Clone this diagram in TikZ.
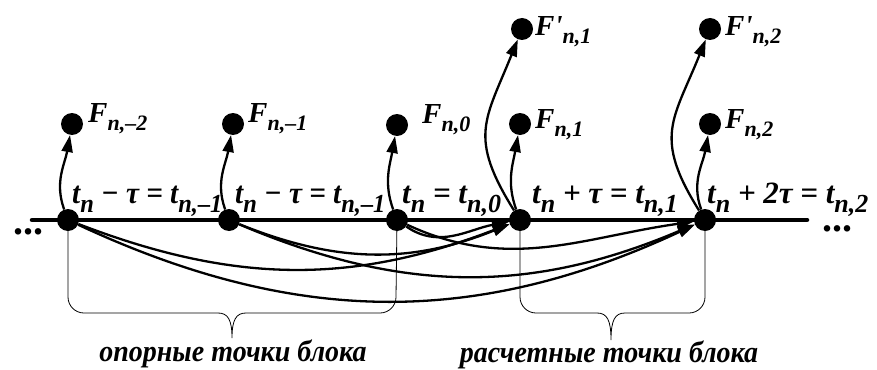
\documentclass[tikz,border=0pt]{standalone}
\usepackage{fontspec}
\setmainfont{Liberation Serif}
\usetikzlibrary{arrows.meta}
\newcommand\sbx[1]{\raisebox{-9pt}{\fontsize{26}{26}\selectfont #1}}
\newcommand\fsb[1]{\raisebox{-8pt}{\fontsize{22}{22}\selectfont #1}}
\begin{document}
\begin{tikzpicture}[x=1pt,y=1pt,
 pt/.style={circle,fill=black,minimum size=22pt,inner sep=0pt},
 conn/.style={line width=2.3pt,-{Triangle[length=17pt,width=11pt]}},
 tlab/.style={anchor=base west,inner sep=0pt,font=\fontsize{31}{31}\selectfont\bfseries\itshape},
 flab/.style={anchor=base west,inner sep=0pt,font=\fontsize{29}{29}\selectfont\bfseries\itshape},
 bracel/.style={line width=0.8pt},
 btxt/.style={inner sep=0pt,yscale=1.08,font=\fontsize{28}{28}\selectfont\bfseries\itshape},
 dotsl/.style={inner sep=0pt,font=\fontsize{40}{40}\selectfont\bfseries}]
\useasboundingbox (0,0) rectangle (877,-369);
% axis
\coordinate (axL) at (32,-220);
\coordinate (axR) at (807,-220);
\draw[line width=4.5pt,line cap=round] (axL) -- (axR);
\node[dotsl] (dl) at (28,-232) {...};
\node[dotsl] (dr) at (837,-229) {...};
% points on axis
\node[pt] (d1) at (68,-220) {};
\node[pt] (d2) at (229,-220) {};
\node[pt] (d3) at (397,-220) {};
\node[pt] (d4) at (520,-220) {};
\node[pt] (d5) at (705,-220) {};
% F points
\node[pt] (f1) at (72,-124) {};
\node[pt] (f2) at (233,-124) {};
\node[pt] (f3) at (397,-125) {};
\node[pt] (f4) at (520,-124) {};
\node[pt] (f5) at (710,-124) {};
\node[pt] (g4) at (522,-29) {};
\node[pt] (g5) at (710,-29) {};
% braces
\draw[bracel] (d1.center) -- (68,-297) arc[start angle=180,end angle=270,radius=16pt] -- (218,-313)
  .. controls (228,-313) and (232,-320) .. (232,-338)
  .. controls (232,-320) and (236,-313) .. (246,-313) -- (380,-313)
  arc[start angle=270,end angle=360,radius=16pt] -- (d3.center);
\draw[bracel] (d4.center) -- (520,-297) arc[start angle=180,end angle=270,radius=16pt] -- (597,-313)
  .. controls (607,-313) and (611,-320) .. (611,-340)
  .. controls (611,-320) and (615,-313) .. (625,-313) -- (689,-313)
  arc[start angle=270,end angle=360,radius=16pt] -- (d5.center);
\node[btxt] (b1) at (233,-354) {опорные точки блока};
\node[btxt] (b2) at (609,-355) {расчетные точки блока};
% arrows up to F
\draw[conn] (d1) to[out=110,in=-100] (f1);
\draw[conn] (d2) to[out=110,in=-100] (f2);
\draw[conn] (d3) to[out=110,in=-100] (f3);
\draw[conn] (d4) to[out=110,in=-100] (f4);
\draw[conn] (d5) to[out=110,in=-100] (f5);
\draw[conn] (d4) to[out=122,in=-112,looseness=1.3] (g4);
\draw[conn] (d5) to[out=122,in=-112,looseness=1.3] (g5);
% arrows below axis
\draw[conn] (d1) to[out=-21,in=-159] (d4);
\draw[conn] (d1) to[out=-25,in=-155] (d5);
\draw[conn] (d2) to[out=-22,in=-158] (d4);
\draw[conn] (d2) to[out=-23,in=-157] (d5);
\draw[conn] (d3) to[out=-35,in=-170] (d4);
\draw[conn] (d3) to[out=-25,in=-172] (d5);
% labels
\node[tlab,xscale=0.94] (l1) at (72,-203) {t\sbx{n} − τ = t\sbx{n,–1}};
\node[tlab,xscale=0.94] (l2) at (235,-203) {t\sbx{n} − τ = t\sbx{n,–1}};
\node[tlab] (l3) at (402,-203) {t\sbx{n} = t\sbx{n,0}};
\node[tlab] (l4) at (532,-203) {t\sbx{n} + τ = t\sbx{n,1}};
\node[tlab] (l5) at (707,-203) {t\sbx{n} + 2τ = t\sbx{n,2}};
\node[flab] (fl1) at (88,-122) {F\fsb{n,–2}};
\node[flab] (fl2) at (248,-122) {F\fsb{n,–1}};
\node[flab] (fl3) at (422,-123) {F\fsb{n,0}};
\node[flab] (fl4) at (535,-128) {F\fsb{n,1}};
\node[flab] (fl5) at (725,-128) {F\fsb{n,2}};
\node[flab] (gl4) at (535,-36) {F\textquotesingle\fsb{n,1}};
\node[flab] (gl5) at (725,-36) {F\textquotesingle\fsb{n,2}};
\end{tikzpicture}
\end{document}
